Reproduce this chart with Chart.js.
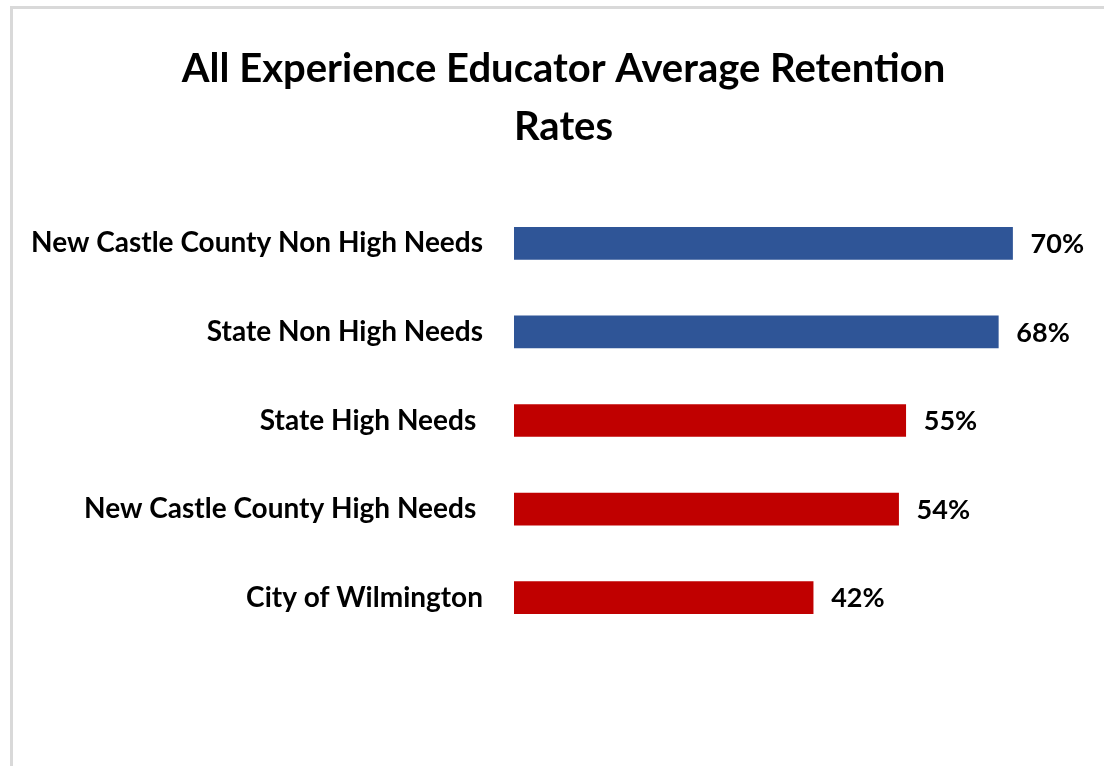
<!DOCTYPE html>
<html>
<head>
<meta charset="utf-8">
<script src="https://cdn.jsdelivr.net/npm/chart.js@4"></script>
<style>
  html, body { margin: 0; padding: 0; background: #fff; overflow: hidden; width: 1104px; height: 766px; }
  #frame { position: absolute; left: 10px; top: 6px; right: 0; bottom: 0;
           border-top: 3px solid #d9d9d9; border-left: 3px solid #d9d9d9; }
  /* canvas is shifted so the centred title lands where the reference has it */
  #wrap { position: absolute; left: -28px; top: 0; width: 1183px; height: 766px; }
</style>
</head>
<body>
<div id="frame"></div>
<div id="wrap"><canvas id="chart"></canvas></div>
<script>
const FONT = 'Lato, "Liberation Sans", Arial, sans-serif';

const categories = ['New Castle County Non High Needs', 'State Non High Needs', 'State High Needs ',
                    'New Castle County High Needs ', 'City of Wilmington'];
const retention = [70, 68, 55, 54, 42];
const barColors = ['#2F5597', '#2F5597', '#C00000', '#C00000', '#C00000'];
const titleLines = ['All Experience Educator Average Retention', 'Rates'];

// percent text at the end of each bar
const valueLabels = {
    id: 'valueLabels',
    afterDatasetsDraw(chart) {
        const ctx = chart.ctx;
        const meta = chart.getDatasetMeta(0);
        ctx.save();
        ctx.font = 'bold 27px ' + FONT;
        ctx.fillStyle = '#000';
        ctx.textAlign = 'left';
        ctx.textBaseline = 'middle';
        meta.data.forEach((bar, i) => {
            ctx.fillText(retention[i] + '%', bar.x + 18, bar.y + 1);
        });
        ctx.restore();
    }
};

new Chart(document.getElementById('chart'), {
    type: 'bar',
    data: {
        labels: categories,
        datasets: [{ data: retention, backgroundColor: barColors, barThickness: 32 }]
    },
    options: {
        indexAxis: 'y',
        responsive: true,
        maintainAspectRatio: false,
        animation: false,
        layout: { padding: { left: 0, right: 0, top: 0, bottom: 124 } },
        plugins: {
            legend: { display: false },
            tooltip: { enabled: false },
            title: {
                display: true,
                text: titleLines,
                color: '#000',
                font: { family: FONT, size: 40, weight: 'bold', lineHeight: 58 / 40 },
                padding: { top: 40, bottom: 43 }
            }
        },
        scales: {
            x: { display: false, min: 0, max: 90 },
            y: {
                grid: { display: false, drawTicks: false },
                border: { display: false },
                ticks: { color: '#000', padding: 31, font: { family: FONT, size: 28, weight: 'bold' } },
                afterFit: (scale) => { scale.width = 542; }
            }
        }
    },
    plugins: [valueLabels]
});
</script>
</body>
</html>
